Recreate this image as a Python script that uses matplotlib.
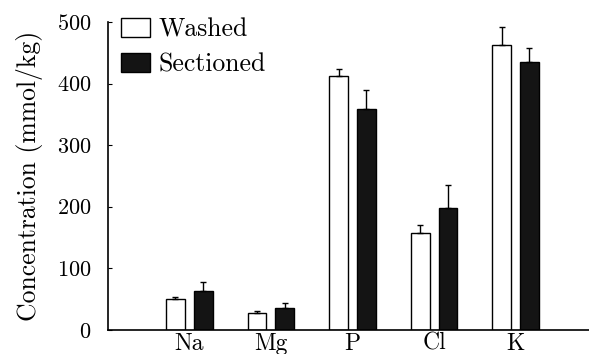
import numpy as np
import matplotlib.pyplot as plt
from matplotlib.patches import Patch

plt.rcParams['font.family'] = ['cmr10', 'DejaVu Serif']
plt.rcParams['axes.formatter.use_mathtext'] = True

elements = ['Na', 'Mg', 'P', 'Cl', 'K']
washed = [50, 27, 413, 158, 463]
washed_err = [4, 4, 10, 13, 28]
sectioned = [63, 36, 359, 198, 435]
sectioned_err = [14, 8, 31, 37, 23]

fig = plt.figure(figsize=(5.89, 3.54), dpi=100)
ax = fig.add_axes([0.183, 0.068, 0.817, 0.870])

x = np.arange(1, len(elements) + 1)
w = 0.23
off = 0.17
zeros = np.zeros(len(x))
ax.bar(x - off, washed, w, color='white', edgecolor='black', linewidth=1.0,
       yerr=[zeros, washed_err], capsize=2, error_kw=dict(elinewidth=1.0, capthick=1.0))
ax.bar(x + off, sectioned, w, color='#141414', edgecolor='black', linewidth=1.0,
       yerr=[zeros, sectioned_err], capsize=2, error_kw=dict(elinewidth=1.0, capthick=1.0))

ax.set_xlim(0, 5.9)
ax.set_ylim(0, 500)
ax.set_yticks([0, 100, 200, 300, 400, 500])
ax.set_xticks(x)
ax.set_xticklabels(elements, fontsize=17)
ax.tick_params(axis='x', length=0, pad=2)
ax.tick_params(axis='y', direction='in', length=3, labelsize=16, pad=12)
ax.spines['top'].set_visible(False)
ax.spines['right'].set_visible(False)
ax.spines['left'].set_bounds(0, 500)
ax.spines['left'].set_linewidth(1.2)
ax.spines['bottom'].set_linewidth(1.2)
ax.set_ylabel('Concentration (mmol/kg)', fontsize=18.5, labelpad=10)

handles = [Patch(facecolor='white', edgecolor='black', label='Washed'),
           Patch(facecolor='#141414', edgecolor='black', label='Sectioned')]
ax.legend(handles=handles, loc='upper left', bbox_to_anchor=(-0.02, 1.09), frameon=False,
          fontsize=18.5, handlelength=1.1, handleheight=0.75, handletextpad=0.35, labelspacing=0.45)

fig.savefig('out.png', dpi=100)
